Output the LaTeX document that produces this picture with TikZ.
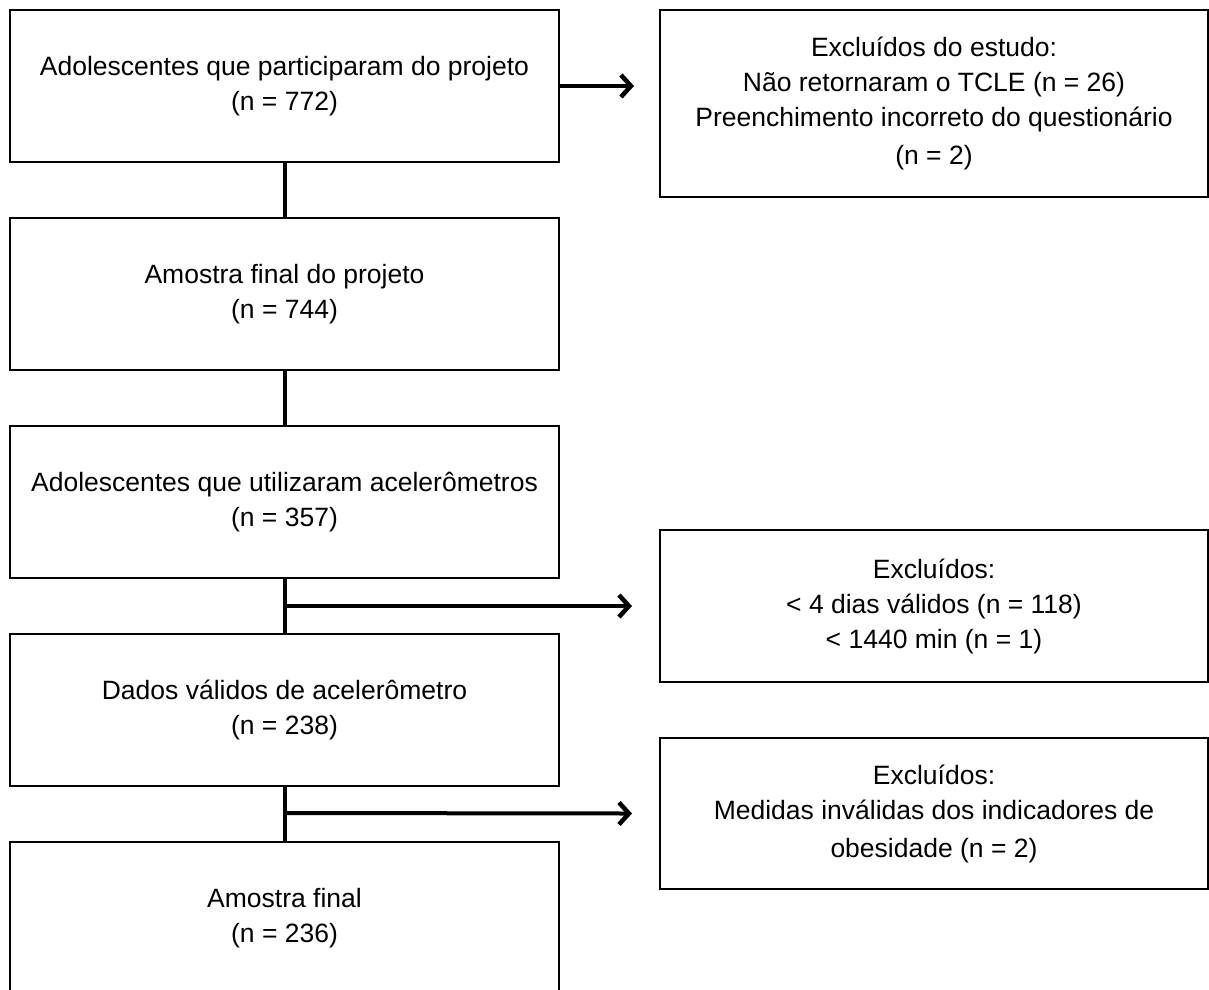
\documentclass[tikz,border=0pt]{standalone}
\usepackage{fontspec}
\setmainfont{Liberation Sans}
\usetikzlibrary{arrows.meta}
\begin{document}
\begin{tikzpicture}[x=1pt,y=1pt,
  box/.style={draw, line width=2pt, minimum width=549pt, minimum height=152pt, align=center, inner sep=0pt,
    font=\fontsize{26.5}{35}\selectfont},
  link/.style={line width=4pt},
  arr/.style={line width=4pt, -{Straight Barb[length=10pt,width=22pt,line width=4.5pt]}}]
\clip (0,0) rectangle (1209,-989);
\fill[white] (0,0) rectangle (1209,-989);
\node[box] (b1) at (284.5,-86) {Adolescentes que participaram do projeto\\(n = 772)};
\node[box, minimum width=548pt, minimum height=187pt] (r1) at (934,-103.5) {Excluídos do estudo:\\Não retornaram o TCLE (n = 26)\\Preenchimento incorreto do questionário\\[3pt](n = 2)};
\node[box] (b2) at (284.5,-294) {Amostra final do projeto\\(n = 744)};
\node[box] (b3) at (284.5,-502) {Adolescentes que utilizaram acelerômetros\\(n = 357)};
\node[box, minimum width=548pt] (r2) at (934,-606) {Excluídos:\\< 4 dias válidos (n = 118)\\< 1440 min (n = 1)};
\node[box] (b4) at (284.5,-710) {Dados válidos de acelerômetro\\(n = 238)};
\node[box, minimum width=548pt, minimum height=151pt] (r3) at (934,-813.5) {Excluídos:\\Medidas inválidas dos indicadores de\\[3pt]obesidade (n = 2)};
\node[box] (b5) at (284.5,-918) {Amostra final\\(n = 236)};
\coordinate (a1) at ([xshift=74pt]b1.east);
\coordinate (m2) at (286,-606);
\coordinate (m3) at (286,-813);
\draw[link] (b1.south) -- (b2.north);
\draw[link] (b2.south) -- (b3.north);
\draw[link] (b3.south) -- (b4.north);
\draw[link] (b4.south) -- (b5.north);
\draw[arr] (b1.east) -- (a1);
\draw[arr] (m2) -- ([xshift=-27pt]r2.west);
\draw[arr] (m3) -- ([xshift=-27pt]r3.west);
\end{tikzpicture}
\end{document}
